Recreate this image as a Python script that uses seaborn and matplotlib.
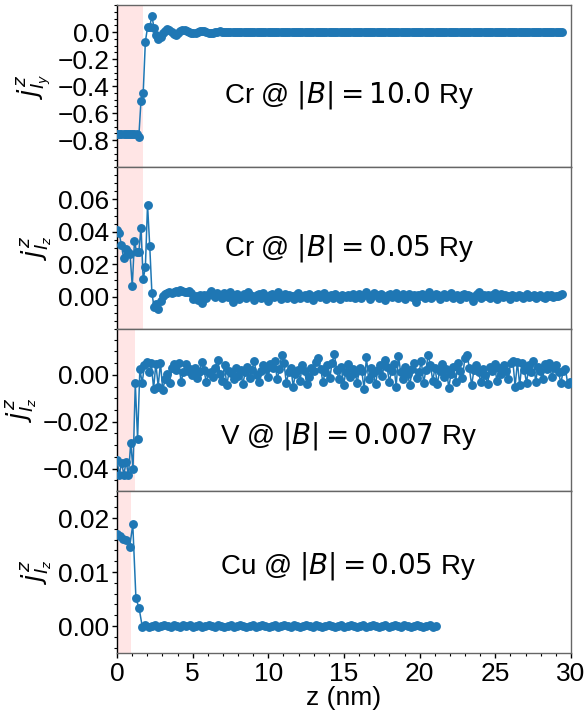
import numpy as np
import pandas as pd
import matplotlib
matplotlib.use("Agg")
import matplotlib.pyplot as plt
import seaborn as sns
from matplotlib.ticker import AutoMinorLocator

sns.set_style("ticks")
plt.rcParams['font.family'] = ['Liberation Sans', 'DejaVu Sans']
plt.rcParams['mathtext.fontset'] = 'dejavusans'
for k in ['text.color', 'axes.labelcolor', 'xtick.color', 'ytick.color']:
    plt.rcParams[k] = 'black'

# layer spacings (nm)
dz_cr = 0.1442
dz_v = 0.1512
dz_cu = 0.2087

cr10_vals = [
    -0.755, -0.757, -0.755, -0.756, -0.758, -0.755, -0.757, -0.756, -0.755, -0.758,
    -0.775, -0.51, -0.455, -0.072, 0.035, 0.04, 0.117, 0.03, -0.02, -0.05,
    -0.035, -0.01, 0.01, 0.02, 0.015, 0.0, -0.015, -0.02, -0.01, 0.005,
    0.012, 0.015, 0.01, 0.0, -0.008, -0.01, -0.006, 0.0, 0.006, 0.008,
    0.005, 0.0, -0.004, -0.006, -0.004, 0.0, 0.003, 0.004, 0.002, -0.001,
    -0.003,
    0.002, -0.001, 0.001, 0.003, 0.000, -0.002, -0.001, 0.002, 0.001, -0.002, 0.000, 0.002, -0.001, 0.001,
    -0.002, 0.000, 0.001, -0.001, 0.002, 0.001, -0.002, -0.001, 0.001, 0.002, 0.000, -0.001, 0.001, -0.002,
    0.001, 0.002, 0.000, -0.001, -0.002, 0.001, 0.000, 0.002, -0.001, 0.001, -0.001, 0.000, 0.002, 0.001,
    -0.001, 0.000, 0.001, -0.002, 0.001, 0.002, 0.000, -0.001, 0.001, 0.000, -0.002, 0.001, 0.002, -0.001,
    0.000, 0.001, -0.001, 0.002, 0.000, -0.001, 0.001, 0.000, 0.002, -0.002, 0.001, 0.000, -0.001, 0.001,
    0.002, -0.001, 0.000, 0.001, -0.002, 0.000, 0.002, 0.001, -0.001, 0.000, 0.001, -0.001, 0.002, 0.000,
    -0.001, 0.001, 0.000, -0.002, 0.001, 0.002, -0.001, 0.000, 0.001, -0.001, 0.000, 0.002, -0.002, 0.001,
    0.000, -0.001, 0.002, 0.001, 0.000, -0.001, 0.001, -0.002, 0.000, 0.001, 0.002, -0.001, 0.000, 0.001,
    -0.002, 0.001, 0.000, 0.001, -0.001, 0.002, 0.000, -0.001, 0.001, 0.000, -0.002, 0.001, 0.002, 0.000,
    0.001, -0.001, 0.000, 0.002, -0.001, 0.000, 0.001, -0.002, 0.001, 0.000, 0.002, -0.001, 0.001, 0.000,
    -0.001, 0.002, 0.000, -0.001, 0.001, 0.000, -0.002, 0.001, 0.002, -0.001, 0.000, 0.001, -0.001, 0.001,
]

cr005_vals = [
    0.041, 0.039, 0.032, 0.024, 0.0296, 0.0275, 0.026, 0.0064, 0.0343, 0.0275,
    0.0275, 0.0426, 0.0106, 0.018, 0.0567, 0.0314, 0.0022, -0.0066, -0.0046, -0.0077,
    -0.0025, 0.0006,
    0.0015, 0.0020, 0.0026, 0.0022, 0.0030, 0.0035, 0.0031, 0.0040, 0.0036, 0.0030, 0.0028, 0.0034, 0.0022, -0.0012, 0.0005,
    -0.0018, 0.0012, -0.0040, 0.0008, -0.0010, 0.0015, 0.0035, 0.0010, -0.0005, 0.0020, 0.0012, -0.0008, 0.0025, 0.0010, -0.0002,
    0.0028, -0.0035, 0.0010, 0.0018, -0.0012, 0.0006, 0.0015, -0.0010, 0.0030, 0.0012, 0.0004, -0.0020, 0.0008, 0.0014, -0.0006,
    0.0024, 0.0005, -0.0028, 0.0010, 0.0016, -0.0004, 0.0008, 0.0030, -0.0012, 0.0002, 0.0018, -0.0008, 0.0012, 0.0006, -0.0015,
    0.0010, 0.0020, -0.0010, 0.0004, 0.0012, -0.0006, 0.0016, 0.0002, -0.0018, 0.0008, 0.0014, -0.0002, 0.0006, 0.0020, -0.0012,
    0.0004, 0.0010, -0.0008, 0.0016, 0.0002, -0.0014, 0.0010, 0.0006, -0.0004, 0.0012, 0.0000, 0.0018, -0.0010, 0.0006, 0.0014,
    -0.0006, 0.0008, 0.0030, 0.0012, -0.0016, 0.0004, 0.0020, 0.0008, -0.0010, 0.0014, 0.0002, -0.0020, 0.0010, 0.0016, -0.0004,
    0.0008, 0.0024, -0.0008, 0.0004, 0.0014, -0.0014, 0.0006, 0.0018, -0.0002, 0.0010, -0.0035, 0.0008, 0.0002, 0.0016, -0.0010,
    0.0012, 0.0030, -0.0006, 0.0004, 0.0018, 0.0010, -0.0012, 0.0006, 0.0014, -0.0004, 0.0010, 0.0022, -0.0008, 0.0002, 0.0012,
    -0.0016, 0.0008, 0.0014, -0.0004, 0.0010, 0.0004, -0.0028, 0.0006, 0.0016, 0.0030, -0.0010, 0.0008, 0.0002, 0.0012, -0.0006,
    0.0010, 0.0020, -0.0012, 0.0004, 0.0014, -0.0004, 0.0008, 0.0002, -0.0014, 0.0012, 0.0006, -0.0002, 0.0010, 0.0004, -0.0008,
    0.0006, 0.0014, -0.0004, 0.0002, 0.0010, -0.0010, 0.0006, 0.0012, 0.0000, -0.0006, 0.0008, 0.0004, 0.0010, -0.0004, 0.0006,
    0.0002, 0.0008, 0.0016,
]

v_vals = [
    -0.0364, -0.0425, -0.0375, -0.0425, -0.0370, -0.0428, -0.0290, -0.0400, -0.0035, -0.0275, 0.0025, -0.0035,
    0.0040, 0.0055, 0.0010, 0.0050, -0.0060, 0.0048, -0.0050, 0.0052, -0.0065, -0.0020, 0.0005, -0.0035, 0.0030, 0.0045, 0.0020, 0.0050, -0.0030,
    0.0010, 0.0045, 0.0015, 0.0025, 0.0000, 0.0030, -0.0015, 0.0010, 0.0055, 0.0020, -0.0030, 0.0008, 0.0012, -0.0010, 0.0028, 0.0065, 0.0005,
    -0.0025, 0.0040, -0.0045, 0.0015, 0.0008, -0.0020, 0.0030, -0.0005, 0.0020, -0.0040, 0.0010, 0.0035, -0.0015, 0.0022, 0.0058, 0.0000, -0.0030,
    0.0018, 0.0040, 0.0025, -0.0010, 0.0045, 0.0030, 0.0060, -0.0020, 0.0025, 0.0085, 0.0050, -0.0035, 0.0010, 0.0030, -0.0050, 0.0005, 0.0020,
    -0.0025, 0.0040, 0.0015, -0.0040, -0.0010, 0.0030, 0.0015, 0.0055, 0.0070, 0.0025, -0.0030, 0.0012, 0.0040, -0.0015, 0.0050, 0.0090, 0.0020,
    -0.0020, 0.0035, -0.0045, 0.0010, 0.0045, -0.0010, 0.0025, 0.0008, -0.0035, 0.0030, 0.0015, -0.0060, 0.0075, -0.0020, 0.0030, 0.0008, -0.0040,
    0.0020, 0.0040, -0.0005, 0.0065, 0.0035, -0.0030, 0.0015, 0.0045, -0.0050, 0.0080, 0.0010, -0.0020, 0.0035, 0.0005, -0.0045, 0.0025, 0.0050,
    -0.0015, 0.0010, 0.0060, -0.0035, 0.0020, 0.0085, 0.0040, -0.0025, 0.0030, -0.0040, 0.0015, 0.0045, -0.0010, 0.0025, -0.0055, 0.0005, 0.0035,
    -0.0030, 0.0050, 0.0015, -0.0015, 0.0070, 0.0085, 0.0030, -0.0045, 0.0020, 0.0040, 0.0010, -0.0030, 0.0025, 0.0000, -0.0040, 0.0035, 0.0015,
    0.0045, -0.0025, 0.0030, 0.0005, 0.0040, 0.0015, -0.0020, 0.0050, 0.0060, -0.0050, 0.0055, -0.0045, 0.0050, 0.0020, -0.0035, 0.0040, 0.0010,
    0.0060, -0.0030, 0.0035, 0.0015, -0.0020, 0.0045, 0.0025, 0.0050, -0.0010, 0.0030, 0.0040, 0.0010, -0.0035, 0.0015, 0.0025, -0.0040, -0.0030,
]

cu_vals = [
    0.0170, 0.0166, 0.0161, 0.0159, 0.0146, 0.0188, 0.0051, 0.0033, -0.0001,
    0.0001, -0.0001, 0.0000, 0.0001, -0.0002, 0.0000, 0.0001, 0.0000, -0.0001, 0.0001, 0.0000, -0.0001, 0.0001, 0.0000, 0.0001,
    -0.0001, 0.0000, 0.0001, -0.0001, 0.0000, 0.0002, 0.0000, -0.0001, 0.0001, 0.0000, -0.0001, 0.0000, 0.0001, -0.0001, 0.0000,
    0.0001, 0.0000, -0.0001, 0.0000, 0.0001, -0.0001, 0.0000, 0.0001, 0.0000, -0.0002, 0.0000, 0.0001, -0.0001, 0.0000, 0.0001,
    0.0000, -0.0001, 0.0001, 0.0000, -0.0001, 0.0000, 0.0001, 0.0000, -0.0001, 0.0001, 0.0000, -0.0001, 0.0000, 0.0001, 0.0000,
    -0.0001, 0.0000, 0.0001, -0.0001, 0.0000, 0.0001, 0.0000, -0.0001, 0.0000, 0.0001, -0.0001, 0.0000, 0.0001, 0.0000, -0.0001,
    0.0000, 0.0001, -0.0001, 0.0000, 0.0001, 0.0000, -0.0001, 0.0001, 0.0000, -0.0001, 0.0000, 0.0001, 0.0000, -0.0001, 0.0000,
    0.0001, -0.0001, 0.0000,
]

yticks_cr10 = [-0.8, -0.6, -0.4, -0.2, 0.0]
yticks_cr005 = [0.00, 0.02, 0.04, 0.06]
yticks_v = [-0.04, -0.02, 0.00]
yticks_cu = [0.00, 0.01, 0.02]
xticks = [0, 5, 10, 15, 20, 25, 30]

panels = [
    dict(vals=cr10_vals, dz=dz_cr, shade=1.72, ylim=(-1.0, 0.2), ticks=yticks_cr10, fmt='%.1f',
         ylabel=r'$j_{I_y}^z$', text=r'Cr @ $|B| = 10.0$ Ry', ty=0.445),
    dict(vals=cr005_vals, dz=dz_cr, shade=1.72, ylim=(-0.02, 0.08), ticks=yticks_cr005, fmt='%.2f',
         ylabel=r'$j_{I_z}^z$', text=r'Cr @ $|B| = 0.05$ Ry', ty=0.50),
    dict(vals=v_vals, dz=dz_v, shade=1.19, ylim=(-0.0495, 0.0195), ticks=yticks_v, fmt='%.2f',
         ylabel=r'$j_{I_z}^z$', text=r'V @ $|B| = 0.007$ Ry', ty=0.34),
    dict(vals=cu_vals, dz=dz_cu, shade=0.9, ylim=(-0.005, 0.025), ticks=yticks_cu, fmt='%.2f',
         ylabel=r'$j_{I_z}^z$', text=r'Cu @ $|B| = 0.05$ Ry', ty=0.535),
]

fig, axes = plt.subplots(4, 1, figsize=(5.87, 7.15), dpi=100, sharex=True)
fig.subplots_adjust(left=0.1993, right=0.9727, top=0.993, bottom=0.0867, hspace=0)

blue = '#1f77b4'
for i, (ax, p) in enumerate(zip(axes, panels)):
    y = np.array(p['vals'])
    z = np.arange(len(y)) * p['dz']
    df = pd.DataFrame({'z': z, 'j': y})
    ax.axvspan(0, p['shade'], color='red', alpha=0.1, lw=0, zorder=0)
    sns.lineplot(data=df, x='z', y='j', ax=ax, color=blue, lw=1.1,
                 marker='o', markersize=6.4, markeredgewidth=0,
                 estimator=None, sort=False, zorder=3)
    ax.set_xlim(0, 30)
    ax.set_ylim(*p['ylim'])
    ax.set_yticks(p['ticks'])
    ax.set_yticklabels([(p['fmt'] % t).replace('-', '\u2212') for t in p['ticks']])
    ax.yaxis.set_minor_locator(AutoMinorLocator())
    ax.set_ylabel(p['ylabel'], fontsize=19, labelpad=3)
    ax.text(0.51, p['ty'], p['text'], transform=ax.transAxes, ha='center',
            va='center', fontsize=20)
    ax.tick_params(axis='y', which='major', direction='out', length=3.5, width=1,
                   labelsize=19, pad=2)
    ax.tick_params(axis='y', which='minor', direction='out', length=2, width=0.8)
    for s in ['top', 'right', 'bottom']:
        ax.spines[s].set_color('0.4')
        ax.spines[s].set_linewidth(1.0)
    ax.spines['left'].set_color('black')
    ax.spines['left'].set_linewidth(1.0)
    if i < 3:
        ax.tick_params(axis='x', which='both', bottom=False, labelbottom=False)
        ax.set_xlabel('')
    else:
        ax.set_xticks(xticks)
        ax.set_xticklabels([str(t) for t in xticks])
        ax.xaxis.set_minor_locator(AutoMinorLocator())
        ax.tick_params(axis='x', which='major', direction='out', length=3.5, width=1,
                       labelsize=19, pad=3)
        ax.tick_params(axis='x', which='minor', direction='out', length=2, width=0.8)
        ax.set_xlabel('z (nm)', fontsize=19, labelpad=0)

fig.savefig('out.png', dpi=100)
